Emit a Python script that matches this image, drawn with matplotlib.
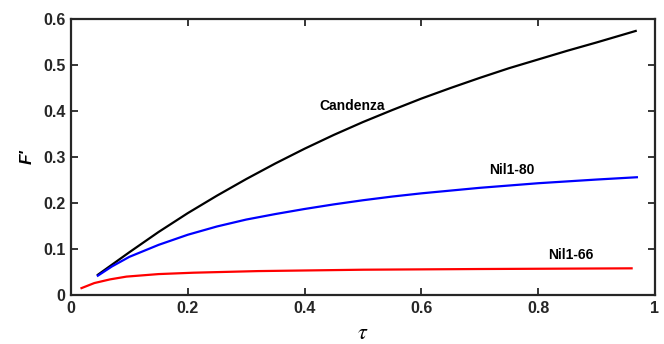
import matplotlib
matplotlib.use('Agg')
import matplotlib.pyplot as plt

# values
tau_candenza = [0.046, 0.10, 0.15, 0.20, 0.25, 0.30, 0.35, 0.40, 0.45, 0.50,
                0.55, 0.60, 0.65, 0.70, 0.75, 0.80, 0.85, 0.90, 0.967]
f_candenza = [0.044, 0.093, 0.137, 0.178, 0.216, 0.252, 0.286, 0.318, 0.348, 0.376,
              0.402, 0.427, 0.450, 0.472, 0.493, 0.512, 0.531, 0.549, 0.574]

tau_nil80 = [0.046, 0.07, 0.10, 0.15, 0.20, 0.25, 0.30, 0.35, 0.40, 0.45, 0.50,
             0.55, 0.60, 0.65, 0.70, 0.75, 0.80, 0.85, 0.90, 0.969]
f_nil80 = [0.042, 0.062, 0.083, 0.109, 0.131, 0.149, 0.164, 0.176, 0.187, 0.197, 0.206,
           0.214, 0.221, 0.227, 0.233, 0.238, 0.243, 0.247, 0.251, 0.256]

tau_nil66 = [0.018, 0.04, 0.067, 0.095, 0.15, 0.21, 0.32, 0.50, 0.70, 0.96]
f_nil66 = [0.015, 0.026, 0.034, 0.040, 0.0455, 0.0485, 0.052, 0.055, 0.0565, 0.058]

labels = ['Candenza', 'Nil1-80', 'Nil1-66']
label_pos = [(0.481, 0.411), (0.755, 0.272), (0.856, 0.087)]

plt.rcParams['font.family'] = ['Liberation Sans', 'DejaVu Sans']
plt.rcParams['mathtext.fontset'] = 'stix'

fig = plt.figure(figsize=(6.64, 3.44), dpi=100)
ax = fig.add_axes([0.1069, 0.1424, 0.8795, 0.8024])

ax.plot(tau_candenza, f_candenza, color='black', lw=1.6)
ax.plot(tau_nil80, f_nil80, color='blue', lw=1.6)
ax.plot(tau_nil66, f_nil66, color='red', lw=1.6)

for lab, (x, y) in zip(labels, label_pos):
    ax.text(x, y, lab, fontsize=10, fontweight='bold', ha='center', va='center')

ax.set_xlim(0, 1)
ax.set_ylim(0, 0.6)
ax.set_xticks([0, 0.2, 0.4, 0.6, 0.8, 1])
ax.set_xticklabels(['0', '0.2', '0.4', '0.6', '0.8', '1'])
ax.set_yticks([0, 0.1, 0.2, 0.3, 0.4, 0.5, 0.6])
ax.set_yticklabels(['0', '0.1', '0.2', '0.3', '0.4', '0.5', '0.6'])

for s in ax.spines.values():
    s.set_linewidth(1.6)
    s.set_color('#262626')
ax.tick_params(direction='in', length=5, width=1.3, color='#262626',
               top=True, right=True, labelsize=11.5, labelcolor='#262626', pad=4)
for lbl in ax.get_xticklabels() + ax.get_yticklabels():
    lbl.set_fontweight('bold')

ax.set_xlabel(r'$\tau$', fontsize=16, labelpad=5)
ax.set_ylabel("F'", fontsize=12.5, fontweight='bold', fontstyle='italic', labelpad=6)

fig.savefig('out.png', dpi=100)
